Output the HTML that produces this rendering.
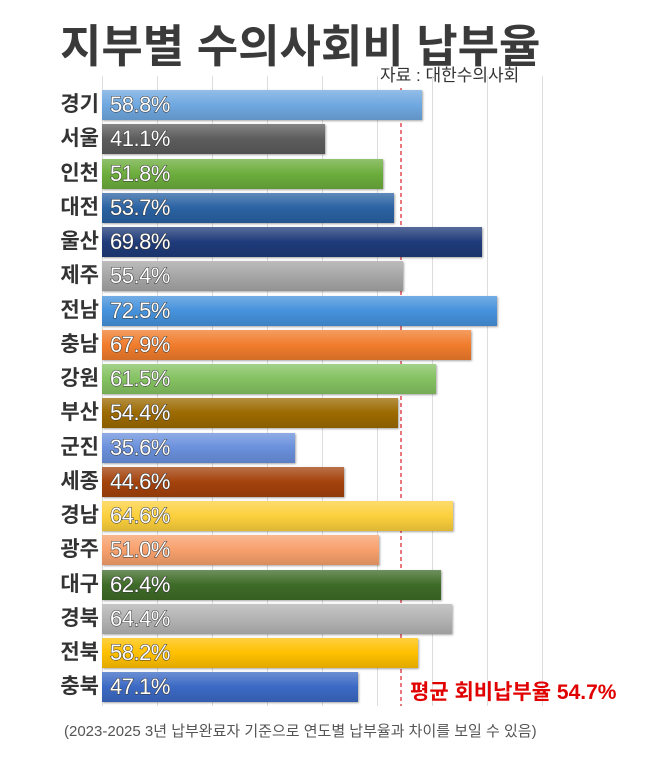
<!DOCTYPE html><html><head><meta charset="utf-8"><style>
body{margin:0;width:660px;height:759px;background:#fff;overflow:hidden;font-family:"Liberation Sans","Noto Sans CJK KR",sans-serif;position:relative}
.a{position:absolute}
.t{left:60px;top:10px;font-size:45px;font-weight:bold;color:#3a3a3a;letter-spacing:0px}
.src{left:380px;top:61px;font-size:17px;color:#333}
.g{top:76px;height:630px;width:1px;background:#ddd}
.lab{left:38px;width:61px;text-align:right;font-size:21px;font-weight:bold;color:#333;line-height:30px}
.bar{left:102px;height:30px;box-shadow:1px 1px 2px rgba(0,0,0,.35);background-image:linear-gradient(rgba(255,255,255,.25),rgba(255,255,255,0) 50%,rgba(0,0,0,.12))}
.v{left:110px;font-size:22px;color:#fff;line-height:30px;-webkit-text-stroke:1px #333;paint-order:stroke fill;letter-spacing:-0.5px}
</style></head><body>
<div class="a t">지부별 수의사회비 납부율</div>
<div class="a src">자료 : 대한수의사회</div>
<div id="g"></div>
<svg class="a" style="left:398px;top:88px" width="6" height="620"><line x1="3" y1="0" x2="3" y2="618" stroke="#d8202a" stroke-width="1.2" stroke-dasharray="4,3"/></svg>
<div id="b"></div>
<div class="a" style="left:410px;top:676px;font-size:21px;font-weight:bold;color:#e00000">평균 회비납부율 54.7%</div>
<div class="a" style="left:64px;top:720px;font-size:15px;color:#555">(2023-2025 3년 납부완료자 기준으로 연도별 납부율과 차이를 보일 수 있음)</div>
<script>
var g='';for(var i=0;i<9;i++)g+='<div class="a g" style="left:'+(102+55*i)+'px"></div>';document.getElementById('g').innerHTML=g;
var d=[["경기",58.8,"#6fa8e0"],["서울",41.1,"#5c5c5c"],["인천",51.8,"#6cad3c"],["대전",53.7,"#2a62a3"],["울산",69.8,"#1f3b7a"],["제주",55.4,"#a6a6a6"],["전남",72.5,"#4592dc"],["충남",67.9,"#f07c2c"],["강원",61.5,"#84c261"],["부산",54.4,"#9c6a00"],["군진",35.6,"#6a90dc"],["세종",44.6,"#a4420c"],["경남",64.6,"#fcd03c"],["광주",51.0,"#f7a06c"],["대구",62.4,"#3e6b27"],["경북",64.4,"#b3b3b3"],["전북",58.2,"#ffc000"],["충북",47.1,"#3b69c4"]];
var h='';d.forEach(function(r,i){var y=90+i*34.25;var w=5.47*r[1]-2;
h+='<div class="a lab" style="top:'+y+'px">'+r[0]+'</div><div class="a bar" style="top:'+y+'px;width:'+w+'px;background-color:'+r[2]+'"></div><div class="a v" style="top:'+y+'px">'+r[1].toFixed(1)+'%</div>';});
document.getElementById('b').innerHTML=h;
</script>
</body></html>
